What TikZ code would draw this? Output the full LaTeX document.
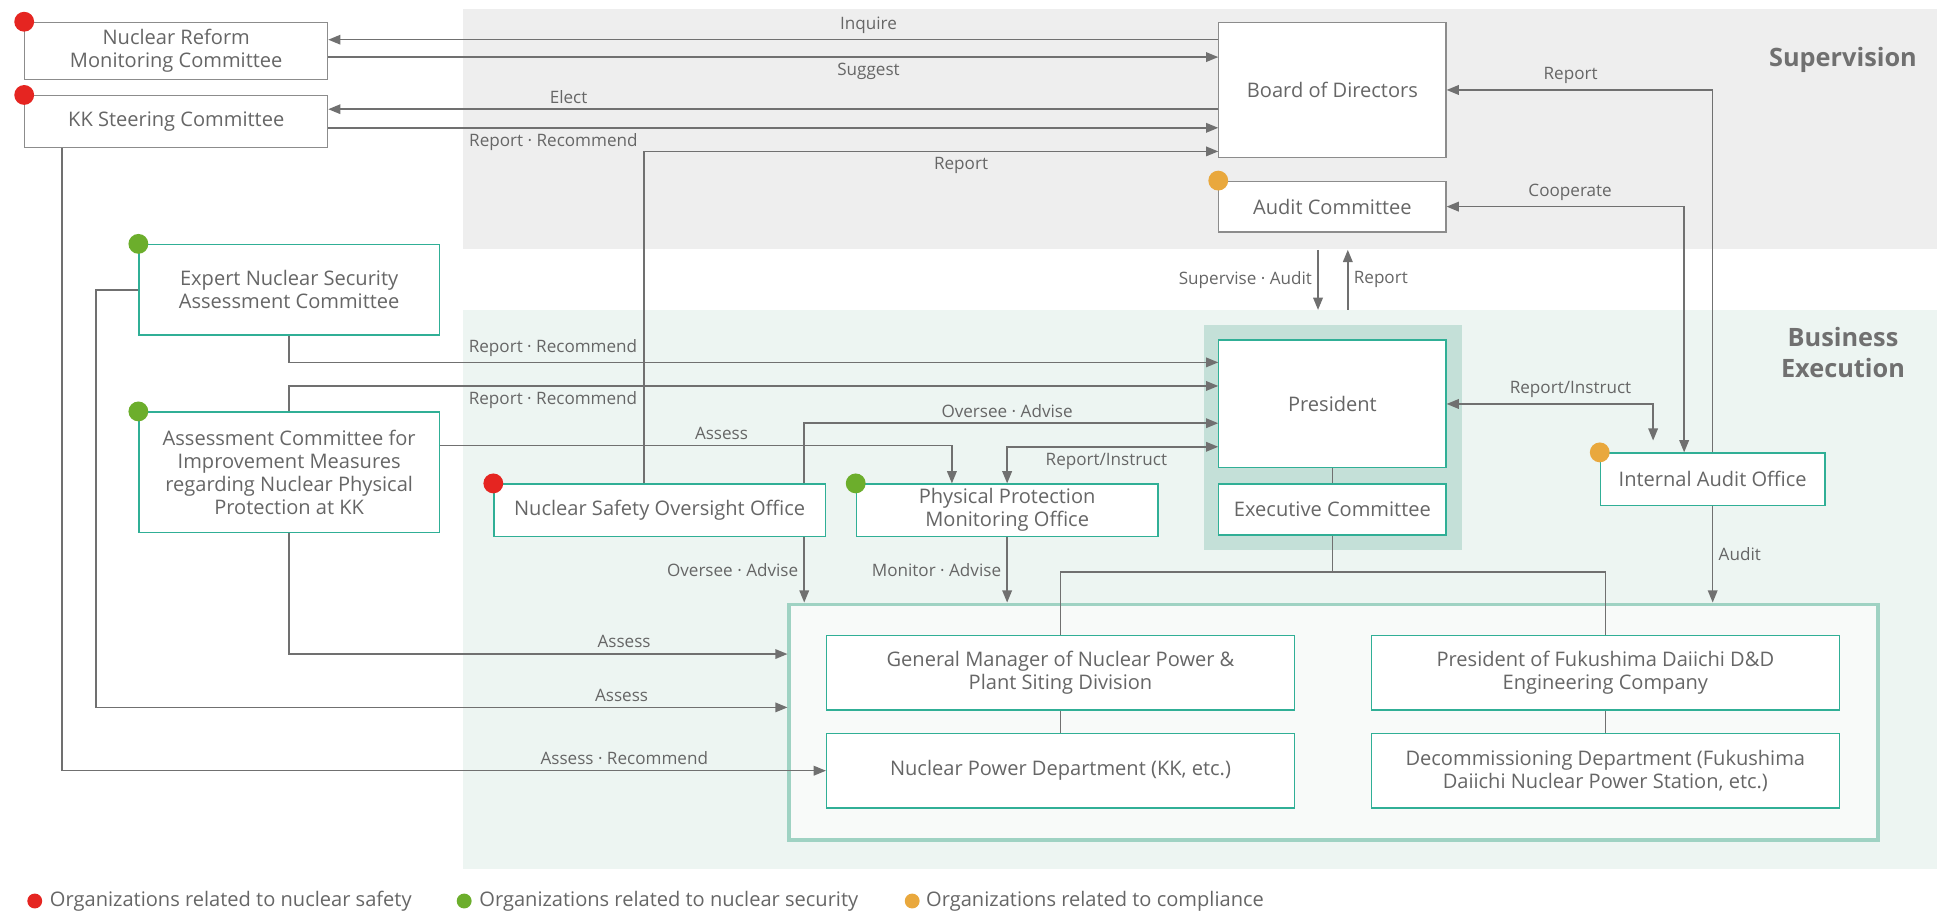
\documentclass[tikz,border=0pt]{standalone}
\usepackage{fontspec}
\setmainfont{Open Sans}
\usepackage{xcolor}
\usetikzlibrary{positioning,arrows.meta,calc}

\definecolor{txtgray}{HTML}{666666}
\definecolor{lngray}{HTML}{707070}
\definecolor{boxgray}{HTML}{8C8C8C}
\definecolor{boxteal}{HTML}{30AF96}
\definecolor{supbg}{HTML}{EEEEEE}
\definecolor{busbg}{HTML}{EDF5F2}
\definecolor{presbg}{HTML}{C4E0D8}
\definecolor{contline}{HTML}{9FD2C3}
\definecolor{contbg}{HTML}{F8FAF9}
\definecolor{dotred}{HTML}{E52521}
\definecolor{dotgreen}{HTML}{6CAE2C}
\definecolor{dotorange}{HTML}{E9A83D}

\begin{document}
\begin{tikzpicture}[
  gbox/.style={draw=boxgray, fill=white, line width=0.7pt, text=txtgray, inner sep=2pt, font=\fontsize{11.5}{13.2}\selectfont, align=center},
  tbox/.style={gbox, draw=boxteal},
  lbl/.style={text=txtgray, inner sep=3pt, font=\fontsize{9.8}{12}\selectfont},
  leg/.style={text=txtgray, inner sep=0pt, anchor=west, font=\fontsize{11.5}{13}\selectfont},
  sect/.style={text=lngray, align=center, font=\fontsize{14.5}{17.8}\selectfont\bfseries},
  arr/.style={-{Triangle[length=7pt,width=5.5pt]}, lngray, line width=0.9pt},
  arr2/.style={{Triangle[length=7pt,width=5.5pt]}-{Triangle[length=7pt,width=5.5pt]}, lngray, line width=0.9pt},
  ln/.style={lngray, line width=0.8pt}
]
\useasboundingbox (0,0) rectangle (39.2,-18.4);

% backgrounds
\node[fill=supbg, minimum width=29.7cm, minimum height=4.85cm, inner sep=0pt] (sup) at (24.175,-2.6) {};
\node[fill=busbg, minimum width=29.7cm, minimum height=11.25cm, inner sep=0pt] (bus) at (24.175,-11.875) {};
\node[sect] (supt) at (37.125,-1.2) {Supervision};
\node[sect] (bust) at (37.125,-7.1) {Business\\Execution};
\fill[presbg] (24.25,-6.55) rectangle (29.45,-11.075);

% boxes
\node[gbox, minimum width=6.1cm, minimum height=1.15cm] (nrmc) at (3.55,-1.025) {Nuclear Reform\\Monitoring Committee};
\node[gbox, minimum width=6.1cm, minimum height=1.05cm] (kk) at (3.55,-2.45) {KK Steering Committee};
\node[gbox, minimum width=4.575cm, minimum height=2.725cm] (board) at (26.84,-1.8125) {Board of Directors};
\node[gbox, minimum width=4.575cm, minimum height=1.025cm] (audit) at (26.84,-4.1625) {Audit Committee};
\node[tbox, minimum width=4.575cm, minimum height=2.575cm] (pres) at (26.84,-8.1375) {President};
\node[tbox, minimum width=4.575cm, minimum height=1.025cm] (exec) at (26.84,-10.2625) {Executive Committee};
\node[tbox, minimum width=6.05cm, minimum height=1.825cm] (expert) at (5.825,-5.8375) {Expert Nuclear Security\\Assessment Committee};
\node[tbox, minimum width=6.05cm, minimum height=2.425cm] (ac) at (5.825,-9.5125) {Assessment Committee for\\Improvement Measures\\regarding Nuclear Physical\\Protection at KK};
\node[tbox, minimum width=6.675cm, minimum height=1.05cm] (nsoo) at (13.2875,-10.275) {Nuclear Safety Oversight Office};
\node[tbox, minimum width=6.075cm, minimum height=1.05cm] (ppmo) at (20.2875,-10.275) {Physical Protection\\Monitoring Office};
\node[tbox, minimum width=4.525cm, minimum height=1.05cm] (iao) at (34.5,-9.65) {Internal Audit Office};
\node[draw=contline, fill=contbg, line width=2.1pt, minimum width=21.925cm, minimum height=4.75cm, inner sep=0pt] (cont) at (26.8625,-14.55) {};
\node[tbox, minimum width=9.425cm, minimum height=1.5cm] (gm) at (21.3625,-13.55) {General Manager of Nuclear Power \&\\Plant Siting Division};
\node[tbox, minimum width=9.425cm, minimum height=1.5cm] (npd) at (21.3625,-15.525) {Nuclear Power Department (KK, etc.)};
\node[tbox, minimum width=9.425cm, minimum height=1.5cm] (pfd) at (32.3375,-13.55) {President of Fukushima Daiichi D\&D\\Engineering Company};
\node[tbox, minimum width=9.425cm, minimum height=1.5cm] (dec) at (32.3375,-15.525) {Decommissioning Department (Fukushima\\Daiichi Nuclear Power Station, etc.)};

% category dots
\fill[dotred] (nrmc.north west) circle (0.2);
\fill[dotred] (kk.north west) circle (0.2);
\fill[dotorange] (audit.north west) circle (0.2);
\fill[dotgreen] (expert.north west) circle (0.2);
\fill[dotgreen] (ac.north west) circle (0.2);
\fill[dotred] (nsoo.north west) circle (0.2);
\fill[dotgreen] (ppmo.north west) circle (0.2);
\fill[dotorange] (iao.north west) circle (0.2);

% supervision arrows
\draw[arr] (board.west |- 0,-0.8) -- node[lbl, above, pos=0.393] {Inquire} (nrmc.east |- 0,-0.8);
\draw[arr] (nrmc.east |- 0,-1.15) -- node[lbl, below, pos=0.607] {Suggest} (board.west |- 0,-1.15);
\draw[arr] (board.west |- 0,-2.2) -- node[lbl, above, pos=0.73] {Elect} (kk.east |- 0,-2.2);
\draw[arr] (kk.east |- 0,-2.575) -- node[lbl, below, pos=0.253] {Report · Recommend} (board.west |- 0,-2.575);
\draw[arr] ([xshift=-0.3125cm]nsoo.north) |- node[lbl, below, pos=0.776] {Report} (board.west |- 0,-3.05);

\draw[arr] (sup.south -| 26.55,0) -- node[lbl, left] {Supervise · Audit} (bus.north -| 26.55,0);
\draw[arr] (bus.north -| 27.15,0) -- node[lbl, right] {Report} (sup.south -| 27.15,0);
\draw[arr2] (audit.east) -| node[lbl, above, pos=0.26] {Cooperate} ([xshift=-0.575cm]iao.north);
\draw[arr] (iao.north) |- node[lbl, above, pos=0.767] {Report} (board.east);
\coordinate (ri) at (33.3,-8.875);
\draw[arr2] (pres.east) -| node[lbl, above, pos=0.3] {Report/Instruct} (ri);
\draw[arr] (iao.south) -- node[lbl, right] {Audit} (iao.south |- cont.north);

% business execution arrows
\draw[arr] (expert.south) |- node[lbl, above, pos=0.642] {Report · Recommend} (pres.west |- 0,-7.3);
\draw[arr] (ac.north) |- node[lbl, below, pos=0.642] {Report · Recommend} (pres.west |- 0,-7.775);
\draw[arr] ([xshift=2.9125cm]nsoo.north) |- node[lbl, above, pos=0.745] {Oversee · Advise} (pres.west |- 0,-8.525);
\draw[arr] ([yshift=0.5375cm]ac.east) -| node[lbl, above, pos=0.275] {Assess} ([xshift=-1.1125cm]ppmo.north);
\draw[arr2] (ppmo.north) |- node[lbl, below, pos=0.735] {Report/Instruct} (pres.west |- 0,-9);
\draw[arr] ([xshift=2.9125cm]nsoo.south) -- node[lbl, left] {Oversee · Advise} ([xshift=2.9125cm]nsoo.south |- cont.north);
\draw[arr] (ppmo.south) -- node[lbl, left] {Monitor · Advise} (ppmo.south |- cont.north);
\draw[arr] (ac.south) |- node[lbl, above, pos=0.836] {Assess} (cont.west |- 0,-13.175);
\draw[arr] (expert.west) -- ++(-0.85,0) |- node[lbl, above, pos=0.88] {Assess} (cont.west |- 0,-14.25);
\draw[arr] ([xshift=-2.3cm]kk.south) |- node[lbl, above, pos=0.868] {Assess · Recommend} (npd.west);

% organisation lines
\draw[ln] (pres.south) -- (exec.north);
\draw[ln] (exec.south) -- (exec.south |- 0,-11.525) coordinate (jn);
\draw[ln] (gm.north) |- (jn) -| (pfd.north);
\draw[ln] (gm.south) -- (npd.north);
\draw[ln] (pfd.south) -- (dec.north);

% legend
\fill[dotred] (0.7,-18.15) circle (0.15);
\node[leg] (leg1) at (1.0,-18.15) {Organizations related to nuclear safety};
\fill[dotgreen] (9.35,-18.15) circle (0.15);
\node[leg] (leg2) at (9.65,-18.15) {Organizations related to nuclear security};
\fill[dotorange] (18.375,-18.15) circle (0.15);
\node[leg] (leg3) at (18.65,-18.15) {Organizations related to compliance};

\end{tikzpicture}
\end{document}
